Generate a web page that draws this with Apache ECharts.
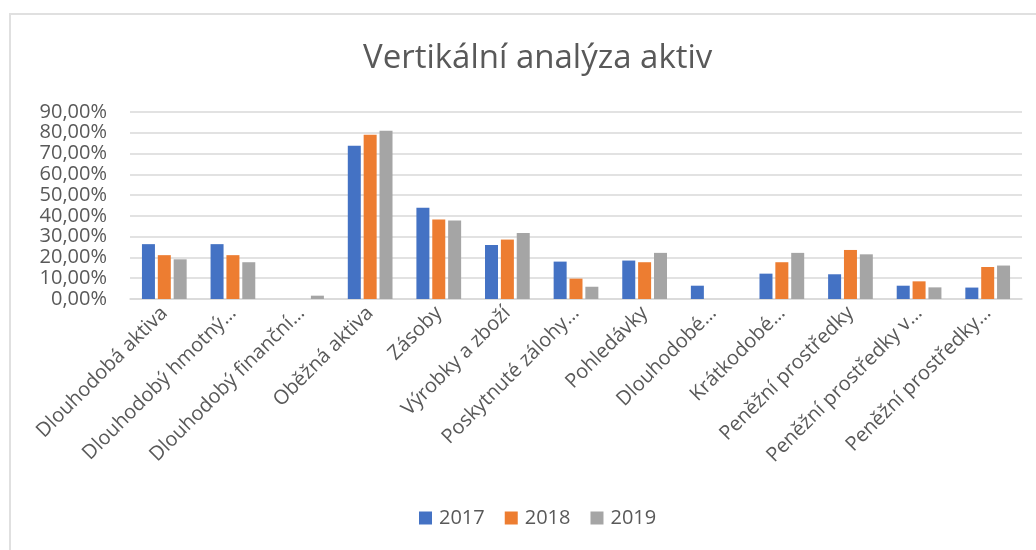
<!DOCTYPE html>
<html>
<head>
<meta charset="utf-8">
<script src="https://cdn.jsdelivr.net/npm/echarts@6/dist/echarts.min.js"></script>
<style>
    html, body {
        margin: 0;
        padding: 0;
        background: #ffffff;
    }
    #frame {
        position: absolute;
        left: 9px;
        top: 13px;
        width: 1100px;
        height: 600px;
        border: 2px solid #e0e0e0;
    }
    #chart {
        position: absolute;
        left: 0;
        top: 0;
        width: 1036px;
        height: 550px;
    }
</style>
</head>
<body>
<div id="frame"></div>
<div id="chart"></div>
<script>
    // kategorie na ose x (tak jak jsou zobrazeny)
    var categories = [
        'Dlouhodobá aktiva',
        'Dlouhodobý hmotný…',
        'Dlouhodobý finanční…',
        'Oběžná aktiva',
        'Zásoby',
        'Výrobky a zboží',
        'Poskytnuté zálohy…',
        'Pohledávky',
        'Dlouhodobé…',
        'Krátkodobé…',
        'Peněžní prostředky',
        'Peněžní prostředky v…',
        'Peněžní prostředky…'
    ];
    // hodnoty v procentech
    var data2017 = [26.4, 26.4, 0, 73.8, 43.9, 26.0, 18.0, 18.5, 6.4, 12.2, 11.9, 6.4, 5.5];
    var data2018 = [21.1, 21.1, 0, 79.1, 38.3, 28.6, 9.8, 17.7, 0, 17.7, 23.6, 8.5, 15.4];
    var data2019 = [19.1, 17.7, 1.6, 81.0, 37.8, 31.8, 5.9, 22.2, 0, 22.2, 21.5, 5.6, 16.1];
    var years = ['2017', '2018', '2019'];
    var colors = ['#4472C4', '#ED7D31', '#A5A5A5'];

    var chart = echarts.init(document.getElementById('chart'));
    var font = '"Open Sans", "Noto Sans", sans-serif';

    function barSeries(name, values) {
        return {
            name: name,
            type: 'bar',
            data: values,
            barWidth: 13,
            barGap: '22%'
        };
    }

    var option = {
        animation: false,
        color: colors,
        title: {
            text: 'Vertikální analýza aktiv',
            left: 358,
            top: 37,
            textStyle: {
                fontFamily: font,
                fontSize: 33,
                fontWeight: 'normal',
                color: '#595959'
            }
        },
        legend: {
            data: years,
            bottom: 17,
            left: 414,
            itemWidth: 13,
            itemHeight: 13,
            itemGap: 20,
            icon: 'rect',
            textStyle: {
                fontFamily: font,
                fontSize: 20,
                color: '#595959',
                padding: [0, 0, 0, 2]
            }
        },
        grid: {
            left: 130,
            right: 14,
            top: 112,
            bottom: 251
        },
        xAxis: {
            type: 'category',
            data: categories,
            axisTick: { show: false },
            axisLine: {
                show: true,
                lineStyle: { color: '#d9d9d9', width: 1.5 }
            },
            axisLabel: {
                rotate: 45,
                interval: 0,
                margin: 11,
                fontFamily: font,
                fontSize: 20,
                color: '#595959'
            }
        },
        yAxis: {
            type: 'value',
            min: 0,
            max: 90,
            interval: 10,
            axisLine: { show: false },
            axisTick: { show: false },
            splitLine: {
                lineStyle: { color: '#d9d9d9', width: 1.5 }
            },
            axisLabel: {
                margin: 23,
                fontFamily: font,
                fontSize: 20,
                color: '#595959',
                formatter: function (v) {
                    return v.toFixed(2).replace('.', ',') + '%';
                }
            }
        },
        series: [
            barSeries('2017', data2017),
            barSeries('2018', data2018),
            barSeries('2019', data2019)
        ]
    };
    chart.setOption(option);
</script>
</body>
</html>
